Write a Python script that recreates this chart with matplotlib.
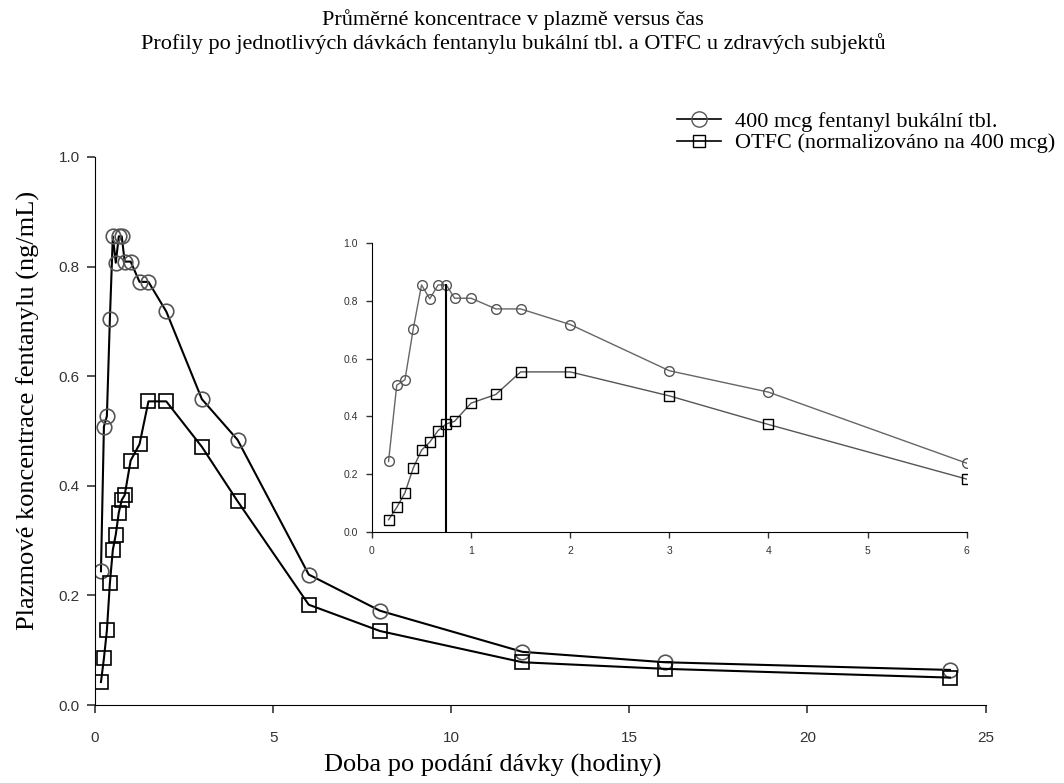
import matplotlib.pyplot as plt
from matplotlib.lines import Line2D

# time after dose (hours)
hours = [0.167, 0.25, 0.333, 0.417, 0.5, 0.583, 0.667, 0.75, 0.833, 1.0,
         1.25, 1.5, 2.0, 3.0, 4.0, 6.0, 8.0, 12.0, 16.0, 24.0]
# 400 mcg fentanyl buccal tablet
buccal = [0.244, 0.508, 0.527, 0.704, 0.855, 0.807, 0.855, 0.855, 0.809, 0.809,
          0.772, 0.772, 0.718, 0.558, 0.484, 0.238, 0.172, 0.097, 0.078, 0.064]
# OTFC normalised to 400 mcg
otfc = [0.042, 0.085, 0.136, 0.222, 0.283, 0.311, 0.351, 0.374, 0.383, 0.446,
        0.476, 0.554, 0.554, 0.471, 0.372, 0.183, 0.135, 0.078, 0.066, 0.050]
tmax = 0.75

title = ("Průměrné koncentrace v plazmě versus čas\n"
         "Profily po jednotlivých dávkách fentanylu bukální tbl. a OTFC u zdravých subjektů")
labels = ["400 mcg fentanyl bukální tbl.", "OTFC (normalizováno na 400 mcg)"]

serif = ['Liberation Serif', 'DejaVu Serif']
sans = ['Liberation Sans', 'DejaVu Sans']
plt.rcParams['font.family'] = sans

fig = plt.figure(figsize=(10.64, 7.83), dpi=100)
ax = fig.add_axes([0.0893, 0.0996, 0.837, 0.70])

ax.plot(hours, buccal, color='black', lw=1.5, marker='o', ms=10.5, mfc='none',
        mec='#555555', mew=1.2)
ax.plot(hours, otfc, color='black', lw=1.5, marker='s', ms=10, mfc='none',
        mec='black', mew=1.2)
ax.set_xlim(0, 25)
ax.set_ylim(0, 1.0)
ax.set_xticks([0, 5, 10, 15, 20, 25])
ax.set_yticks([0, 0.2, 0.4, 0.6, 0.8, 1.0])
ax.set_yticklabels(['0.0', '0.2', '0.4', '0.6', '0.8', '1.0'])
for s in ['top', 'right']:
    ax.spines[s].set_visible(False)
ax.tick_params(labelsize=11, length=6, width=1.2, color='#333333', labelcolor='#333333')
ax.tick_params(axis='x', pad=13)
ax.tick_params(axis='y', pad=5)
ax.set_xlabel('Doba po podání dávky (hodiny)', family=serif, fontsize=19)
ax.set_ylabel('Plazmové koncentrace fentanylu (ng/mL)', family=serif, fontsize=19)
ax.xaxis.set_label_coords(0.447, -0.09)
ax.yaxis.set_label_coords(-0.062, 0.538)

# inset with the first 6 hours
ins = fig.add_axes([0.3496, 0.3206, 0.559, 0.369])
n6 = hours.index(6.0) + 1
ins.plot(hours[:n6], buccal[:n6], color='#666666', lw=1.0, marker='o', ms=7,
         mfc='none', mec='#555555', mew=1.0)
ins.plot(hours[:n6], otfc[:n6], color='#555555', lw=1.0, marker='s', ms=6.5,
         mfc='none', mec='black', mew=1.0)
ins.plot([tmax, tmax], [0, max(buccal)], color='black', lw=1.5)
ins.set_xlim(0, 6)
ins.set_ylim(0, 1.0)
ins.set_xticks([0, 1, 2, 3, 4, 5, 6])
ins.set_yticks([0, 0.2, 0.4, 0.6, 0.8, 1.0])
ins.set_yticklabels(['0.0', '0.2', '0.4', '0.6', '0.8', '1.0'])
for s in ['top', 'right']:
    ins.spines[s].set_visible(False)
ins.tick_params(labelsize=7.5, length=4, width=1.0, color='#333333', labelcolor='#333333', pad=6)

fig.text(0.482, 0.988, title, ha='center', va='top', family=serif, fontsize=16,
         linespacing=1.2)

handles = [Line2D([], [], color='black', lw=1.2, marker='o', ms=11, mfc='none', mec='#555555'),
           Line2D([], [], color='black', lw=1.2, marker='s', ms=9, mfc='none', mec='black')]
fig.legend(handles, labels, loc='upper right', bbox_to_anchor=(1.006, 0.878), frameon=False,
           prop={'family': serif, 'size': 16}, handlelength=2.0, handletextpad=0.6,
           labelspacing=0.05, borderpad=0.2)

fig.savefig('out.png', dpi=100)
